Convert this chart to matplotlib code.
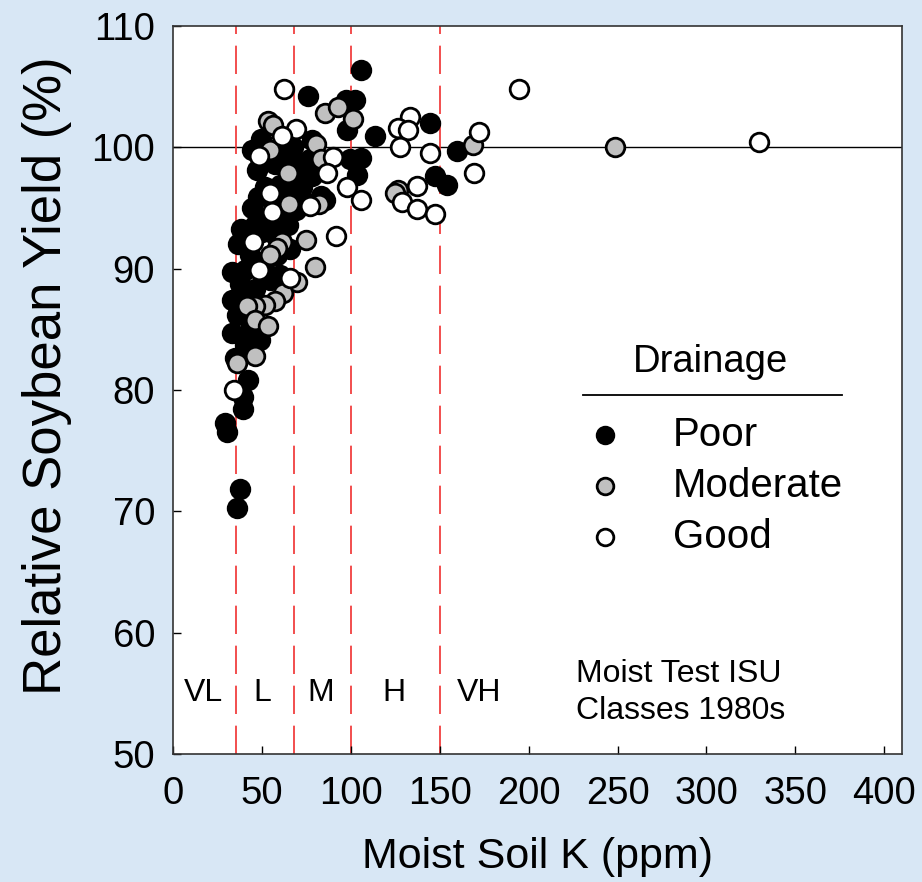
import matplotlib
matplotlib.use("Agg")
import matplotlib.pyplot as plt
from matplotlib.lines import Line2D

plt.rcParams['font.family'] = ['Liberation Sans', 'DejaVu Sans']

# Moist soil K (ppm) and relative yield (%) by drainage class
poor_x = [105.6, 75.8, 97.1, 102.2, 97.7, 113.4, 144.4, 159.6, 147.2, 153.9,
          105.6, 99.4, 103.3, 85.3, 83.0, 78.0, 72.4, 76.9, 78.0, 49.3,
          44.3, 47.1, 54.4, 57.2, 62.8, 67.3, 71.2, 62.8, 51.6, 47.7,
          57.2, 60.0, 68.4, 61.7, 53.2, 46.0, 49.9, 64.5, 43.1, 36.4,
          43.1, 51.6, 58.3, 40.3, 32.9, 37.5, 46.0, 54.4, 60.0, 32.9,
          40.3, 36.1, 43.1, 32.9, 48.8, 40.3, 34.7, 42.0, 39.2, 39.2,
          29.1, 30.2, 37.5, 35.8, 44.3, 38.1, 65.6, 41.0, 71.2, 69.0, 57.2]
poor_y = [106.4, 104.2, 103.9, 103.9, 101.4, 100.9, 102.0, 99.7, 97.6, 96.9,
          99.1, 99.0, 97.7, 95.7, 96.0, 97.6, 96.7, 99.0, 100.6, 100.7,
          99.8, 98.1, 99.0, 98.6, 99.4, 100.0, 98.6, 96.9, 96.7, 95.9,
          96.1, 96.9, 97.3, 94.8, 94.0, 93.6, 93.0, 93.6, 92.4, 92.0,
          91.1, 90.6, 91.1, 89.9, 89.7, 88.7, 88.3, 89.1, 89.5, 87.4,
          87.4, 86.2, 85.0, 84.7, 84.1, 83.7, 82.6, 80.8, 79.4, 78.4,
          77.3, 76.5, 71.8, 70.3, 95.0, 93.3, 91.6, 86.2, 96.1, 94.8, 92.8]

moderate_x = [53.2, 56.1, 85.3, 92.7, 101.1, 80.2, 83.0, 54.4, 64.5, 65.1,
              81.9, 126.4, 168.6, 248.4, 74.6, 79.7, 61.1, 58.3, 54.4, 69.6,
              61.7, 57.2, 51.6, 46.0, 41.4, 46.0, 53.2, 46.0, 35.8, 124.7]
moderate_y = [102.2, 101.8, 102.8, 103.3, 102.3, 100.3, 99.0, 99.8, 97.9, 95.3,
              95.3, 96.5, 100.2, 100.0, 92.4, 90.1, 92.2, 91.7, 91.1, 88.9,
              88.0, 87.3, 87.0, 86.9, 86.9, 85.8, 85.3, 82.8, 82.2, 96.2]

good_x = [62.3, 194.4, 329.4, 133.1, 126.4, 132.0, 127.5, 144.4, 172.2, 169.2,
          137.0, 128.6, 137.0, 147.2, 89.9, 86.5, 97.7, 105.6, 91.5, 76.8,
          69.0, 61.1, 48.2, 54.4, 55.5, 44.8, 48.2, 65.6, 34.1]
good_y = [104.8, 104.8, 100.4, 102.5, 101.6, 101.4, 100.0, 99.5, 101.3, 97.9,
          96.8, 95.5, 94.9, 94.5, 99.2, 97.9, 96.7, 95.7, 92.7, 95.2,
          101.5, 100.9, 99.3, 96.2, 94.7, 92.2, 89.9, 89.2, 80.0]

class_bounds = [35, 68, 100, 150]
class_labels = ["VL", "L", "M", "H", "VH"]
class_label_x = [17, 50, 83, 124, 172]
x_ticks = [0, 50, 100, 150, 200, 250, 300, 350, 400]
y_ticks = [50, 60, 70, 80, 90, 100, 110]

W, H = 922, 882
fig = plt.figure(figsize=(W / 100, H / 100), dpi=100)
fig.patch.set_facecolor('#d8e7f5')
ax = fig.add_axes([173.3 / W, 1 - 754 / H, (902 - 173.3) / W, (754 - 26) / H])
ax.set_facecolor('white')
ax.set_xlim(0, 410)
ax.set_ylim(50, 110)

ax.axhline(100, color='black', lw=1.0, zorder=1)
for b in class_bounds:
    ax.axvline(b, color='#f03030', lw=1.2, ls=(0, (17, 7)), zorder=1)
for lx, lab in zip(class_label_x, class_labels):
    ax.text(lx, 55.0, lab, ha='center', va='center', fontsize=23)

ms = 180
lw = 2.0
ax.scatter(poor_x, poor_y, s=ms, c='black', edgecolors='black', linewidths=lw, zorder=3)
ax.scatter(moderate_x, moderate_y, s=ms, c='#c0c0c0', edgecolors='black', linewidths=lw, zorder=4)
ax.scatter(good_x, good_y, s=ms, c='white', edgecolors='black', linewidths=lw, zorder=5)

ax.set_xticks(x_ticks)
ax.set_yticks(y_ticks)
ax.tick_params(direction='in', length=6, width=1, labelsize=27.5, colors='black')
ax.tick_params(axis='x', pad=16)
ax.tick_params(axis='y', pad=13)
for s in ax.spines.values():
    s.set_color('#333333')
    s.set_linewidth(1.2)

ax.set_xlabel('Moist Soil K (ppm)', fontsize=31, labelpad=18)
ax.set_ylabel('Relative Soybean Yield (%)', fontsize=38)
ax.yaxis.set_label_coords(-0.139, 0.52)

ax.text(0.553, 0.085, 'Moist Test ISU\nClasses 1980s', transform=ax.transAxes,
        fontsize=23, ha='left', va='center', linespacing=1.3)


def fx(px):
    return px / W


def fy(py):
    return 1 - py / H


fig.text(fx(711), fy(362), 'Drainage', ha='center', va='center', fontsize=27.5)
fig.add_artist(Line2D([fx(583), fx(842)], [fy(395), fy(395)], color='black', lw=1.3))
leg_items = [('Poor', 'black'), ('Moderate', '#c0c0c0'), ('Good', 'white')]
leg_y = [435, 486, 537]
for (lab, col), py in zip(leg_items, leg_y):
    fig.add_artist(Line2D([fx(605)], [fy(py)], marker='o', markersize=12,
                          markerfacecolor=col, markeredgecolor='black',
                          markeredgewidth=2.0, ls='none'))
    fig.text(fx(673), fy(py), lab, ha='left', va='center', fontsize=29)

fig.savefig('out.png', dpi=100, facecolor=fig.get_facecolor())
